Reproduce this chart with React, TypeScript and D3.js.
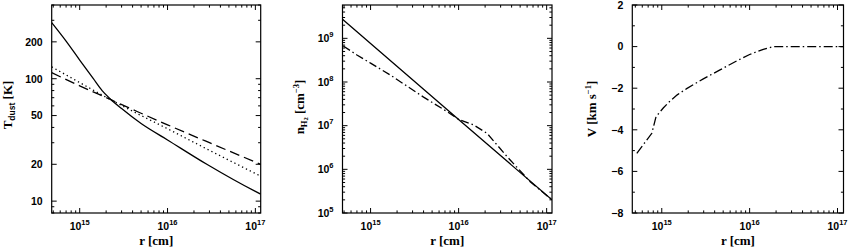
import * as d3 from 'd3'

const W = 850, H = 249
const TOP = 5, BOT = 213

// --- panel 1: dust temperature (K) vs r (cm)
const rTempSolid = [4.8e14, 7.1e14, 1e15, 1.43e15, 1.8e15, 2.2e15, 3e15, 5e15, 1e16, 2.8e16, 1e17, 1.15e17]
const tempSolid = [287, 200, 142, 100, 80, 69, 57, 43, 31.6, 20, 12, 11.4]
const rTempAlt = [4.8e14, 1e15, 2.2e15, 4.5e15, 1e16, 3e16, 1.15e17]
const tempDashed = [112, 87.5, 68, 54, 42, 30, 20]
const tempDotted = [125, 93, 68, 52, 39, 26, 16]
const tempTicks = [10, 20, 50, 100, 200]

// --- panel 2: H2 density (cm^-3) vs r
const rDensSolid = [4.8e14, 1e15, 1e16, 1.15e17]
const densSolid = [2.73e9, 7.6e8, 1.38e7, 2e5]
const rDensDD = [4.9e14, 7e14, 1e15, 1.67e15, 4e15, 7.4e15, 1e16, 1.48e16, 2.1e16, 3.56e16, 6.5e16, 1.15e17]
const densDD = [6.7e8, 4.15e8, 2.7e8, 1.45e8, 4.5e7, 2.1e7, 1.4e7, 1.04e7, 6.7e6, 1.95e6, 5.2e5, 2e5]
const densExp = [5, 6, 7, 8, 9]

// --- panel 3: velocity (km/s) vs r
const rVel = [5.2e14, 7.7e14, 8.6e14, 1.04e15, 1.24e15, 1.5e15, 1.92e15, 2.97e15, 4.6e15, 7.1e15, 1e16, 1.43e16, 1.85e16, 1.16e17]
const vel = [-5.13, -4.17, -3.37, -2.95, -2.62, -2.32, -2.02, -1.55, -1.12, -0.69, -0.38, -0.13, 0, 0]
const velTicks = [-8, -6, -4, -2, 0, 2]

const rExp = [15, 16, 17]

const NUM_FONT = '"Liberation Sans", Arial, sans-serif'
const TXT_FONT = '"Liberation Serif", "Times New Roman", serif'

type Series = { r: number[]; v: number[]; dash?: string; curve?: d3.CurveFactory }

function logMinor(lo: number, hi: number) {
  const out: { v: number; major: boolean }[] = []
  for (let k = Math.floor(Math.log10(lo)); k <= Math.ceil(Math.log10(hi)); k++) {
    for (let n = 1; n <= 9; n++) {
      const v = n * Math.pow(10, k)
      if (v >= lo && v <= hi) out.push({ v, major: n === 1 })
    }
  }
  return out
}

function Panel({ id, x0, x1, xDom, yScale, yTicks, yLabels, series, ylab }: {
  id: string; x0: number; x1: number; xDom: [number, number]
  yScale: any; yTicks: { v: number; major: boolean }[]
  yLabels: { v: number; node: any }[]; series: Series[]; ylab: any
}) {
  const x = d3.scaleLog().domain(xDom).range([x0, x1])
  const xt = logMinor(xDom[0], xDom[1])
  const TL = 5, TS = 2.6
  return (
    <g>
      <defs>
        <clipPath id={id}><rect x={x0} y={TOP} width={x1 - x0} height={BOT - TOP} /></clipPath>
      </defs>
      <g clipPath={`url(#${id})`}>
        {series.map((s, i) => {
          const line = d3.line<number>().x((_, j) => x(s.r[j])).y((v) => yScale(v)).curve(s.curve ?? d3.curveLinear)
          return <path key={i} d={line(s.v) ?? ''} fill="none" stroke="#000" strokeWidth={1.3} strokeDasharray={s.dash} />
        })}
      </g>
      <rect x={x0} y={TOP} width={x1 - x0} height={BOT - TOP} fill="none" stroke="#000" strokeWidth={1.2} />
      {xt.map((t, i) => {
        const px = x(t.v), l = t.major ? TL : TS
        return (
          <g key={i} stroke="#000" strokeWidth={1}>
            <line x1={px} x2={px} y1={BOT} y2={BOT - l} />
            <line x1={px} x2={px} y1={TOP} y2={TOP + l} />
          </g>
        )
      })}
      {yTicks.map((t, i) => {
        const py = yScale(t.v), l = t.major ? TL : TS
        return (
          <g key={i} stroke="#000" strokeWidth={1}>
            <line x1={x0} x2={x0 + l} y1={py} y2={py} />
            <line x1={x1} x2={x1 - l} y1={py} y2={py} />
          </g>
        )
      })}
      {rExp.map((e) => (
        <text key={e} x={x(Math.pow(10, e))} y={230} textAnchor="middle" fontFamily={NUM_FONT} fontSize={10.5} fontWeight="bold">
          10<tspan fontSize={7.5} dy={-5}>{e}</tspan>
        </text>
      ))}
      {yLabels.map((t, i) => (
        <text key={i} x={x0 - 9} y={yScale(t.v) + 3.8} textAnchor="end" fontFamily={NUM_FONT} fontSize={10.5} fontWeight="bold">
          {t.node}
        </text>
      ))}
      <text x={(x0 + x1) / 2} y={245} textAnchor="middle" fontFamily={TXT_FONT} fontSize={13} fontWeight="bold">r  [cm]</text>
      {ylab}
    </g>
  )
}

export default function App() {
  const xDom: [number, number] = [4.8e14, 1.15e17]
  const yT = d3.scaleLog().domain([8, 400]).range([BOT, TOP])
  const yN = d3.scaleLog().domain([1e5, 5.8e9]).range([BOT, TOP])
  const yV = d3.scaleLinear().domain([-8, 2]).range([BOT, TOP])

  const velMinor = d3.range(-8, 3).map((v) => ({ v, major: v % 2 === 0 }))

  return (
    <svg width={W} height={H} style={{ position: 'absolute', left: 0, top: 0, background: '#fff' }}>
      <Panel id="c1" x0={51.7} x1={260.7} xDom={xDom} yScale={yT}
        yTicks={logMinor(8, 400).map((t) => ({ v: t.v, major: tempTicks.includes(t.v) }))}
        yLabels={tempTicks.map((v) => ({ v, node: String(v) }))}
        series={[
          { r: rTempSolid, v: tempSolid, curve: d3.curveMonotoneX },
          { r: rTempAlt, v: tempDashed, dash: '10,5', curve: d3.curveMonotoneX },
          { r: rTempAlt, v: tempDotted, dash: '1.3,3', curve: d3.curveMonotoneX },
        ]}
        ylab={
          <text transform="translate(12,105) rotate(-90)" textAnchor="middle" fontFamily={TXT_FONT} fontSize={13} fontWeight="bold">
            T<tspan fontSize={8.5} dy={2.5} fontFamily={NUM_FONT}>dust</tspan><tspan dy={-2.5}>  [K]</tspan>
          </text>
        } />
      <Panel id="c2" x0={342.5} x1={552} xDom={xDom} yScale={yN}
        yTicks={logMinor(1e5, 5.8e9)}
        yLabels={densExp.map((e) => ({ v: Math.pow(10, e), node: <>10<tspan fontSize={7.5} dy={-5}>{e}</tspan></> }))}
        series={[
          { r: rDensSolid, v: densSolid },
          { r: rDensDD, v: densDD, dash: '8,3,1.5,3' },
        ]}
        ylab={
          <text transform="translate(304,107) rotate(-90)" textAnchor="middle" fontFamily={TXT_FONT} fontSize={13} fontWeight="bold">
            n<tspan fontSize={8.5} dy={2.5}>H</tspan><tspan fontSize={6.5} dy={1.5}>2</tspan><tspan dy={-4}>  [cm</tspan><tspan fontSize={8.5} dy={-5}>−3</tspan><tspan dy={5}>]</tspan>
          </text>
        } />
      <Panel id="c3" x0={632.3} x1={843.5} xDom={[4.62e14, 1.17e17]} yScale={yV}
        yTicks={velMinor}
        yLabels={velTicks.map((v) => ({ v, node: v < 0 ? `−${-v}` : String(v) }))}
        series={[
          { r: rVel, v: vel, dash: '9,3,1.5,3' },
        ]}
        ylab={
          <text transform="translate(596,109) rotate(-90)" textAnchor="middle" fontFamily={TXT_FONT} fontSize={13} fontWeight="bold">
            V  [km s<tspan fontSize={8.5} dy={-5}>−1</tspan><tspan dy={5}>]</tspan>
          </text>
        } />
    </svg>
  )
}
